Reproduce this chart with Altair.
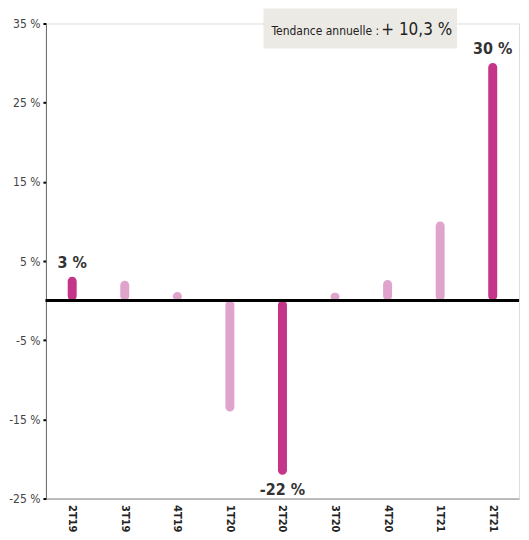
import altair as alt
import pandas as pd

quarters = ["2T19", "3T19", "4T19", "1T20", "2T20", "3T20", "4T20", "1T21", "2T21"]
values = [3, 2.5, 1.1, -14, -22, 1, 2.6, 10, 30]
colors = ["#C4358A", "#E0A4CC", "#E0A4CC", "#E0A4CC", "#C4358A", "#E0A4CC", "#E0A4CC", "#E0A4CC", "#C4358A"]
labels = ["3 %", "", "", "", "-22 %", "", "", "", "30 %"]
y_ticks = [-25, -15, -5, 5, 15, 25, 35]
note_left = "Tendance annuelle :"
note_right = "+ 10,3 %"

FONT = "DejaVu Sans Condensed, Liberation Sans Narrow, Liberation Sans, sans-serif"

df = pd.DataFrame({"q": quarters, "v": values, "c": colors, "lab": labels})

x = alt.X("q:N", sort=quarters, title=None,
          scale=alt.Scale(paddingInner=0, paddingOuter=0),
          axis=alt.Axis(labelAngle=90, labelFont=FONT, labelFontWeight="bold",
                        labelFontSize=11, labelColor="#222", ticks=False,
                        domainColor="#888", labelPadding=6, labelBaseline="middle", labelAlign="left"))
y = alt.Y("v:Q", title=None,
          scale=alt.Scale(domain=[-25, 35], nice=False, zero=False),
          axis=alt.Axis(values=y_ticks, labelExpr="datum.value + ' %'", grid=False,
                        labelFont=FONT, labelFontSize=12, labelColor="#444",
                        domainColor="#666", tickColor="#000", tickSize=3, tickWidth=2,
                        labelPadding=3))

bars = alt.Chart(df).mark_bar(size=9, cornerRadiusEnd=4.5).encode(
    x=x, y=y, y2=alt.datum(0), color=alt.Color("c:N", scale=None))

zero = alt.Chart(df).mark_rule(color="#000", strokeWidth=3).encode(y=alt.datum(0))

lab_pos = alt.Chart(df[df["v"] > 0]).transform_filter("datum.lab != ''").mark_text(
    font=FONT, fontSize=16, fontWeight="bold", color="#333", baseline="bottom", dy=-6
).encode(x=x, y=y, text="lab:N")
lab_neg = alt.Chart(df[df["v"] < 0]).transform_filter("datum.lab != ''").mark_text(
    font=FONT, fontSize=16, fontWeight="bold", color="#333", baseline="top", dy=7
).encode(x=x, y=y, text="lab:N")

box = alt.Chart(df.head(1)).mark_rect(color="#ECEAE5").encode(
    x=alt.value(218), x2=alt.value(412), y=alt.value(-15), y2=alt.value(25))
t1 = alt.Chart(df.head(1)).mark_text(font=FONT, fontSize=12, color="#222", align="left",
                                     baseline="alphabetic").encode(
    x=alt.value(226), y=alt.value(12), text=alt.value(note_left))
t2 = alt.Chart(df.head(1)).mark_text(font=FONT, fontSize=17, color="#222", align="left",
                                     baseline="alphabetic").encode(
    x=alt.value(336), y=alt.value(12), text=alt.value(note_right))

chart = alt.layer(bars, zero, lab_pos, lab_neg, box, t1, t2).properties(
    width=474, height=476,
    padding={"left": 0, "top": 0, "right": 0, "bottom": 0}
).configure_view(stroke=None).configure(background="#FFFFFF")

chart.save("out.html", embed_options={"renderer": "svg", "actions": False})
